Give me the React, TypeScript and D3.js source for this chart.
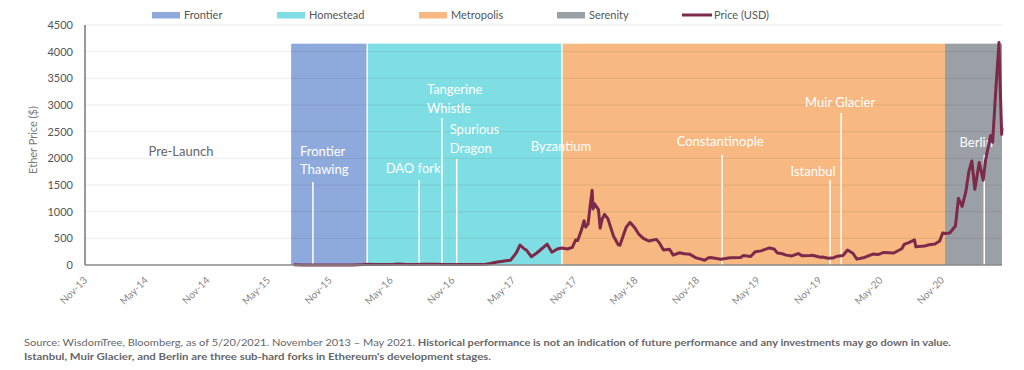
import React from "react";
import * as d3 from "d3";

// eras (hard forks) shown as shaded bands
const eraNames = ["Frontier", "Homestead", "Metropolis", "Serenity"];
const eraStarts = ["2015-07-30", "2016-03-13", "2017-10-15", "2020-12-01"];
const eraEnd = "2021-05-20";
const eraTop = 4150;

// upgrade / fork events
const eventNames = [
  "Frontier Thawing", "DAO fork", "Tangerine Whistle", "Spurious Dragon", "Byzantium",
  "Constantinople", "Istanbul", "Muir Glacier", "Berlin",
];
const eventDates = [
  "2015-10-03", "2016-08-15", "2016-10-22", "2016-12-05", "2017-10-15",
  "2019-02-05", "2019-12-24", "2020-01-26", "2021-03-28",
];

// ETH price (USD)
const priceDates = [
  "2015-08-07", "2015-09-01", "2015-10-01", "2015-11-01", "2016-01-01", "2016-02-01", "2016-03-01",
  "2016-03-15", "2016-04-01", "2016-05-01", "2016-06-01", "2016-06-17", "2016-07-01", "2016-08-01",
  "2016-09-01", "2016-10-01", "2016-11-01", "2016-12-01", "2017-01-01", "2017-02-01", "2017-03-01",
  "2017-03-15", "2017-04-01", "2017-05-01", "2017-05-15", "2017-06-01", "2017-06-12", "2017-06-25",
  "2017-07-01", "2017-07-16", "2017-08-01", "2017-08-15", "2017-09-01", "2017-09-15", "2017-10-01",
  "2017-10-15", "2017-11-01", "2017-11-15", "2017-11-25", "2017-12-01", "2017-12-12", "2017-12-20",
  "2017-12-25", "2018-01-01", "2018-01-08", "2018-01-13", "2018-01-16", "2018-01-20", "2018-02-01",
  "2018-02-06", "2018-02-12", "2018-02-19", "2018-03-01", "2018-03-18", "2018-04-01", "2018-04-06",
  "2018-04-24", "2018-05-06", "2018-05-20", "2018-06-01", "2018-06-15", "2018-07-01", "2018-07-24",
  "2018-08-01", "2018-08-14", "2018-09-01", "2018-09-12", "2018-10-01", "2018-10-15", "2018-11-01",
  "2018-11-20", "2018-12-01", "2018-12-15", "2018-12-25", "2019-01-01", "2019-01-15", "2019-02-01",
  "2019-02-15", "2019-03-01", "2019-04-01", "2019-04-10", "2019-05-01", "2019-05-15", "2019-06-01",
  "2019-06-26", "2019-07-10", "2019-07-20", "2019-08-01", "2019-08-15", "2019-09-01", "2019-09-20",
  "2019-10-01", "2019-10-26", "2019-11-01", "2019-11-25", "2019-12-01", "2019-12-18", "2020-01-01",
  "2020-01-15", "2020-02-01", "2020-02-14", "2020-03-01", "2020-03-13", "2020-04-01", "2020-04-30",
  "2020-05-15", "2020-06-01", "2020-07-01", "2020-07-25", "2020-08-01", "2020-08-15", "2020-09-01",
  "2020-09-05", "2020-10-01", "2020-10-15", "2020-11-01", "2020-11-15", "2020-11-24", "2020-12-01",
  "2020-12-15", "2021-01-01", "2021-01-10", "2021-01-21", "2021-02-01", "2021-02-10", "2021-02-19",
  "2021-02-28", "2021-03-13", "2021-03-25", "2021-04-01", "2021-04-16", "2021-04-22", "2021-05-03",
  "2021-05-11", "2021-05-13", "2021-05-19", "2021-05-20",
];
const prices = [
  2.8, 1.35, 0.7, 1.0, 0.95, 2.3, 7.8,
  12.5, 11.6, 8.8, 14, 20, 12.5, 10.5,
  12, 13, 11, 8.5, 8.2, 10.7, 16,
  28, 50, 78, 90, 230, 375, 300,
  280, 155, 225, 300, 390, 240, 300,
  320, 300, 330, 470, 460, 650, 830,
  710, 770, 1150, 1400, 1050, 1150, 1040,
  690, 860, 950, 870, 540, 380, 370,
  700, 800, 700, 580, 500, 450, 480,
  420, 280, 295, 185, 230, 210, 200,
  130, 115, 90, 130, 140, 125, 107,
  120, 135, 140, 180, 160, 250, 265,
  320, 300, 225, 215, 185, 170, 215,
  175, 180, 183, 145, 150, 125, 130,
  165, 180, 280, 220, 110, 135, 205,
  195, 235, 225, 305, 385, 420, 470,
  340, 355, 380, 395, 450, 600, 590,
  600, 730, 1250, 1100, 1370, 1750, 1950,
  1420, 1920, 1590, 1970, 2430, 2300, 3430,
  4170, 3700, 2450, 2570,
];

const yTicks = [0, 500, 1000, 1500, 2000, 2500, 3000, 3500, 4000, 4500];
const xTickDates = [
  "2013-11-01", "2014-05-01", "2014-11-01", "2015-05-01", "2015-11-01", "2016-05-01",
  "2016-11-01", "2017-05-01", "2017-11-01", "2018-05-01", "2018-11-01", "2019-05-01",
  "2019-11-01", "2020-05-01", "2020-11-01",
];

const eraColors = ["#8eaadc", "#7fdee3", "#f7b981", "#9aa0a6"];
const priceColor = "#7d2a4a";
const FONT = "Lato, 'Open Sans', sans-serif";

// where each event's label and marker line sit (px)
const eventLayout: Record<string, { lines: string[]; anchor: string; dx: number; ys: number[]; lineTop: number | null }> = {
  "Frontier Thawing": { lines: ["Frontier", "Thawing"], anchor: "start", dx: -13, ys: [156, 174], lineTop: 182 },
  "DAO fork": { lines: ["DAO fork"], anchor: "middle", dx: -6, ys: [173], lineTop: 180 },
  "Tangerine Whistle": { lines: ["Tangerine", "Whistle"], anchor: "start", dx: -15, ys: [94, 113], lineTop: 118 },
  "Spurious Dragon": { lines: ["Spurious", "Dragon"], anchor: "start", dx: -7, ys: [134, 153], lineTop: 159 },
  "Byzantium": { lines: ["Byzantium"], anchor: "middle", dx: -1, ys: [151], lineTop: null },
  "Constantinople": { lines: ["Constantinople"], anchor: "middle", dx: -2, ys: [146], lineTop: 155 },
  "Istanbul": { lines: ["Istanbul"], anchor: "middle", dx: -17, ys: [176], lineTop: 180 },
  "Muir Glacier": { lines: ["Muir Glacier"], anchor: "middle", dx: -1, ys: [107], lineTop: 113 },
  "Berlin": { lines: ["Berlin"], anchor: "middle", dx: -8, ys: [147], lineTop: 155 },
};

const parse = d3.timeParse("%Y-%m-%d");

export default function App() {
  const left = 85, right = 1002, top = 25, bottom = 265;

  const x = d3.scaleTime()
    .domain([new Date(2013, 10, 22), parse(eraEnd)!])
    .range([left, right]);
  const y = d3.scaleLinear().domain([0, 4500]).range([bottom, top]);

  const series = priceDates.map((d, i) => ({ date: parse(d)!, value: prices[i] }));
  const priceLine = d3.line<{ date: Date; value: number }>()
    .x(d => x(d.date))
    .y(d => y(d.value));

  const eraBounds = eraStarts.map((s, i) => ({
    name: eraNames[i],
    x0: x(parse(s)!),
    x1: x(parse(i < eraStarts.length - 1 ? eraStarts[i + 1] : eraEnd)!),
    color: eraColors[i],
  }));

  const fmt = d3.timeFormat("%b-%y");

  const legendItems = [
    { label: "Frontier", x: 152, color: eraColors[0], line: false },
    { label: "Homestead", x: 277, color: eraColors[1], line: false },
    { label: "Metropolis", x: 419, color: eraColors[2], line: false },
    { label: "Serenity", x: 557, color: eraColors[3], line: false },
    { label: "Price (USD)", x: 682, color: priceColor, line: true },
  ];

  return (
    <svg width={1024} height={370} style={{ position: "absolute", left: 0, top: 0, background: "#fff" }} fontFamily={FONT}>
      {/* legend */}
      {legendItems.map(l => (
        <g key={l.label}>
          {l.line
            ? <line x1={l.x} x2={l.x + 30} y1={15} y2={15} stroke={l.color} strokeWidth={3} />
            : <rect x={l.x} y={12} width={28} height={6.5} fill={l.color} />}
          <text x={l.x + 32} y={18.5} fontSize={11} fill="#555">{l.label}</text>
        </g>
      ))}

      {/* era bands */}
      {eraBounds.map(e => (
        <rect key={e.name} x={e.x0} y={y(eraTop)} width={e.x1 - e.x0} height={bottom - y(eraTop)} fill={e.color} />
      ))}
      {eraBounds.slice(1, 3).map(e => (
        <line key={"sep" + e.name} x1={e.x0} x2={e.x0} y1={y(eraTop)} y2={bottom} stroke="#fff" strokeWidth={1.5} />
      ))}

      {/* gridlines */}
      {yTicks.map(t => (
        <line key={t} x1={left} x2={right} y1={y(t)} y2={y(t)} stroke="#000" strokeOpacity={t === 0 ? 0 : 0.08} strokeWidth={1} />
      ))}

      {/* event markers */}
      {eventNames.map((n, i) => {
        const ex = x(parse(eventDates[i])!);
        const L = eventLayout[n];
        return (
          <g key={n}>
            {L.lineTop !== null && (
              <line x1={ex} x2={ex} y1={L.lineTop} y2={bottom} stroke="#fff" strokeWidth={1.5} />
            )}
            {L.lines.map((t, j) => (
              <text key={t} x={ex + L.dx} y={L.ys[j]} fontSize={13} fill="#fff" textAnchor={L.anchor as any}>{t}</text>
            ))}
          </g>
        );
      })}

      <text x={181} y={156} fontSize={13} fill="#666" textAnchor="middle">Pre-Launch</text>

      {/* price */}
      <path d={priceLine(series) || ""} fill="none" stroke={priceColor} strokeWidth={3} strokeLinejoin="round" />

      {/* axes */}
      <line x1={left} x2={left} y1={top} y2={bottom} stroke="#777" strokeWidth={1.5} />
      <line x1={left} x2={right} y1={bottom} y2={bottom} stroke="#888" strokeWidth={1.5} />
      {yTicks.map(t => (
        <text key={"yl" + t} x={73} y={y(t)} dy="0.35em" fontSize={11} fill="#555" textAnchor="end">{t}</text>
      ))}
      <text transform="translate(37,140) rotate(-90)" fontSize={11} fill="#777" textAnchor="middle">Ether Price ($)</text>
      {xTickDates.map(d => {
        const tx = x(parse(d)!) + 10;
        return (
          <text key={d} transform={`translate(${tx},281) rotate(-45)`} fontSize={10} fill="#888" textAnchor="end">{fmt(parse(d)!)}</text>
        );
      })}

      {/* footnote */}
      <text x={24} y={346} fontSize={10} fill="#666" textLength={927} lengthAdjust="spacingAndGlyphs">
        <tspan>Source: WisdomTree, Bloomberg, as of 5/20/2021. November 2013 – May 2021. </tspan>
        <tspan fontWeight="bold">Historical performance is not an indication of future performance and any investments may go down in value.</tspan>
      </text>
      <text x={24} y={360} fontSize={10} fill="#666" fontWeight="bold" textLength={467} lengthAdjust="spacingAndGlyphs">
        Istanbul, Muir Glacier, and Berlin are three sub-hard forks in Ethereum's development stages.
      </text>
    </svg>
  );
}
